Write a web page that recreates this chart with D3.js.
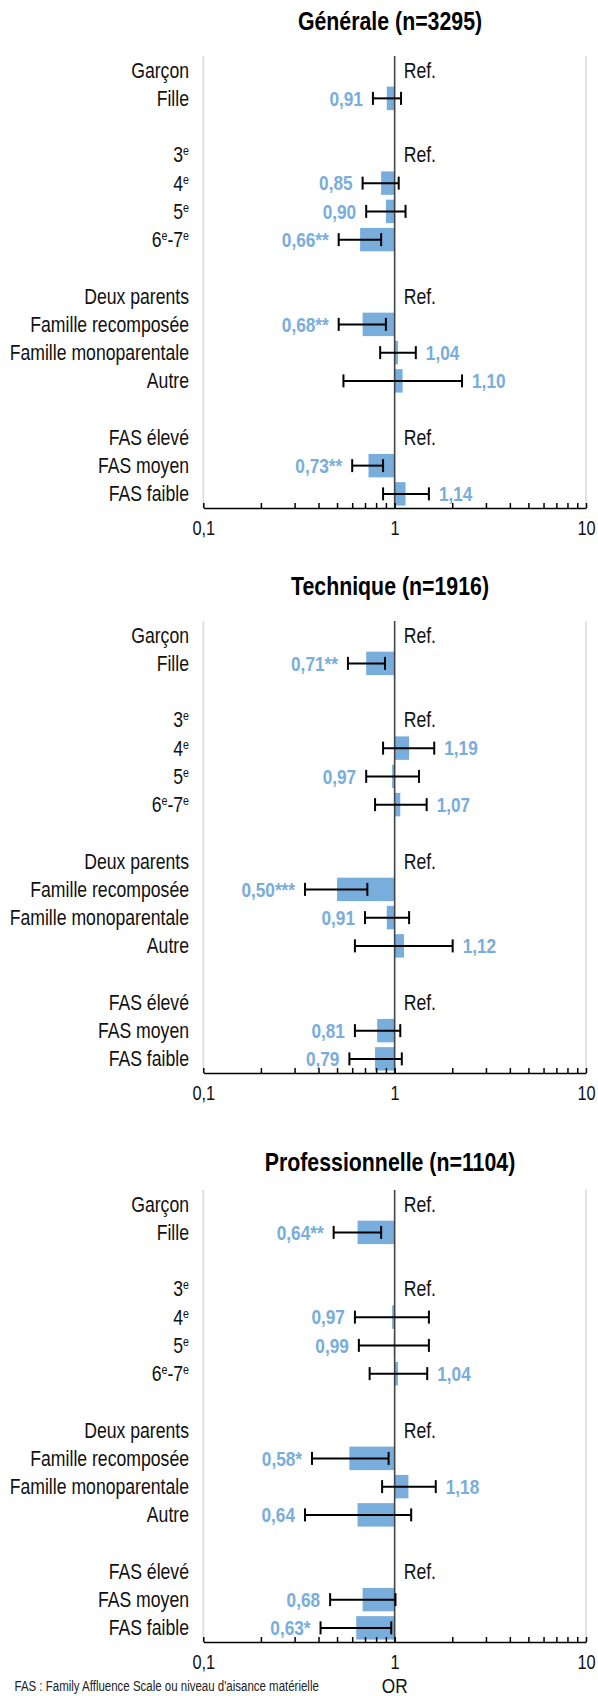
<!DOCTYPE html>
<html>
<head>
<meta charset="utf-8">
<script src="https://cdn.jsdelivr.net/npm/d3@7"></script>
<style>
  body { margin: 0; background: #fff; }
  svg text { font-family: "Liberation Sans", Arial, sans-serif; }
</style>
</head>
<body>
<script>
// rows of each panel ("" = empty spacer row)
const categories = ["Garçon", "Fille", "", "3e", "4e", "5e", "6e-7e", "",
  "Deux parents", "Famille recomposée", "Famille monoparentale", "Autre", "",
  "FAS élevé", "FAS moyen", "FAS faible"];
const refRows = ["Garçon", "3e", "Deux parents", "FAS élevé"];

const panelTitles = ["Générale (n=3295)", "Technique (n=1916)", "Professionnelle (n=1104)"];

// odds ratios, confidence bounds, significance
const orGenerale   = [null, 0.91, null, null, 0.85, 0.90, 0.66, null, null, 0.68, 1.04, 1.10, null, null, 0.73, 1.14];
const lowGenerale  = [null, 0.77, null, null, 0.68, 0.71, 0.51, null, null, 0.51, 0.84, 0.54, null, null, 0.60, 0.87];
const highGenerale = [null, 1.08, null, null, 1.05, 1.14, 0.85, null, null, 0.90, 1.29, 2.25, null, null, 0.87, 1.51];
const sigGenerale  = ["", "", "", "", "", "", "**", "", "", "**", "", "", "", "", "**", ""];

const orTechnique   = [null, 0.71, null, null, 1.19, 0.97, 1.07, null, null, 0.50, 0.91, 1.12, null, null, 0.81, 0.79];
const lowTechnique  = [null, 0.57, null, null, 0.87, 0.71, 0.79, null, null, 0.34, 0.70, 0.62, null, null, 0.62, 0.58];
const highTechnique = [null, 0.89, null, null, 1.61, 1.34, 1.47, null, null, 0.72, 1.19, 2.01, null, null, 1.07, 1.09];
const sigTechnique  = ["", "**", "", "", "", "", "", "", "", "***", "", "", "", "", "", ""];

const orPro   = [null, 0.64, null, null, 0.97, 0.99, 1.04, null, null, 0.58, 1.18, 0.64, null, null, 0.68, 0.63];
const lowPro  = [null, 0.48, null, null, 0.62, 0.65, 0.74, null, null, 0.37, 0.86, 0.34, null, null, 0.46, 0.41];
const highPro = [null, 0.85, null, null, 1.51, 1.51, 1.48, null, null, 0.93, 1.64, 1.22, null, null, 1.01, 0.96];
const sigPro  = ["", "**", "", "", "", "", "", "", "", "*", "", "", "", "", "", "*"];

const tickValues = [0.1, 0.2, 0.3, 0.4, 0.5, 0.6, 0.7, 0.8, 0.9, 1, 2, 3, 4, 5, 6, 7, 8, 9, 10];
const tickLabels = {0.1: "0,1", 1: "1", 10: "10"};

const panels = [
  {title: panelTitles[0], or: orGenerale, low: lowGenerale, high: highGenerale, sig: sigGenerale},
  {title: panelTitles[1], or: orTechnique, low: lowTechnique, high: highTechnique, sig: sigTechnique},
  {title: panelTitles[2], or: orPro, low: lowPro, high: highPro, sig: sigPro}
];

const width = 598, height = 1696;
const blue = "#78addc";
const plotTops = [56, 621, 1190];
const titleYs = [30, 595, 1171];
const plotHeight = 452;
const narrow = 0.82; // condensed look (no narrow font installed)

const svg = d3.select("body")
  .append("svg")
    .attr("width", width)
    .attr("height", height);

const x = d3.scaleLog()
    .domain([0.1, 10])
    .range([203.3, 586]);

const fmt = v => d3.format(".2f")(v).replace(".", ",");

// label with superscript "e" after digits
const addLabel = (sel, txt) => {
  const parts = txt.split(/(\d)e/);
  let shift = 0;
  parts.forEach((p, i) => {
    if (p !== "") {
      const t = sel.append("tspan").text(p);
      if (shift) { t.attr("dy", shift); shift = 0; }
    }
    if (i % 2 === 1) {
      sel.append("tspan")
          .attr("dy", -7)
          .attr("font-size", 13)
          .text("e");
      shift = 7;
    }
  });
};

panels.forEach((p, k) => {
  const top = plotTops[k];
  const rows = categories.map((c, i) => ({
    label: c, i: i, or: p.or[i], low: p.low[i], high: p.high[i], sig: p.sig[i]
  }));
  const data = rows.filter(d => d.or != null);

  const y = d3.scaleBand()
      .domain(d3.range(categories.length))
      .range([top, top + plotHeight]);
  const yc = i => y(i) + y.bandwidth() / 2;
  const barH = y.bandwidth() * 0.83;

  const g = svg.append("g");

  // title
  g.append("text")
      .attr("x", 390)
      .attr("y", titleYs[k])
      .attr("text-anchor", "middle")
      .attr("font-size", 26)
      .attr("font-weight", "bold")
      .attr("fill", "#000")
      .text(p.title);

  // light gridlines at 0,1 and 10
  g.selectAll(".grid")
    .data([0.1, 10])
    .enter()
    .append("line")
      .attr("x1", d => x(d)).attr("x2", d => x(d))
      .attr("y1", top).attr("y2", top + plotHeight)
      .attr("stroke", "#d9d9d9")
      .attr("stroke-width", 1.5);

  // row labels
  g.selectAll(".cat")
    .data(rows.filter(d => d.label !== ""))
    .enter()
    .append("text")
      .attr("x", 189)
      .attr("y", d => yc(d.i))
      .attr("dy", "0.35em")
      .attr("text-anchor", "end")
      .attr("font-size", 21.5)
      .attr("fill", "#111")
      .each(function (d) { addLabel(d3.select(this), d.label); });

  // bars
  g.selectAll(".bar")
    .data(data)
    .enter()
    .append("rect")
      .attr("x", d => Math.min(x(d.or), x(1)))
      .attr("y", d => yc(d.i) - barH / 2)
      .attr("width", d => Math.abs(x(d.or) - x(1)))
      .attr("height", barH)
      .attr("fill", blue);

  // reference line at 1
  g.append("line")
      .attr("x1", x(1)).attr("x2", x(1))
      .attr("y1", top).attr("y2", top + plotHeight)
      .attr("stroke", "#444")
      .attr("stroke-width", 1.6);

  // error bars
  const err = g.selectAll(".err")
    .data(data)
    .enter()
    .append("g")
      .attr("stroke", "#000")
      .attr("stroke-width", 2);
  err.append("line")
      .attr("x1", d => x(d.low)).attr("x2", d => x(d.high))
      .attr("y1", d => yc(d.i)).attr("y2", d => yc(d.i));
  err.append("line")
      .attr("x1", d => x(d.low)).attr("x2", d => x(d.low))
      .attr("y1", d => yc(d.i) - 6.5).attr("y2", d => yc(d.i) + 6.5);
  err.append("line")
      .attr("x1", d => x(d.high)).attr("x2", d => x(d.high))
      .attr("y1", d => yc(d.i) - 6.5).attr("y2", d => yc(d.i) + 6.5);

  // value labels
  g.selectAll(".val")
    .data(data)
    .enter()
    .append("text")
      .attr("x", d => d.or < 1 ? x(d.low) - 10 : x(d.high) + 10)
      .attr("y", d => yc(d.i))
      .attr("dy", "0.35em")
      .attr("text-anchor", d => d.or < 1 ? "end" : "start")
      .attr("font-size", 21)
      .attr("font-weight", "bold")
      .attr("fill", blue)
      .text(d => fmt(d.or) + d.sig);

  // Ref. labels
  g.selectAll(".ref")
    .data(rows.filter(d => refRows.includes(d.label)))
    .enter()
    .append("text")
      .attr("x", x(1) + 9)
      .attr("y", d => yc(d.i))
      .attr("dy", "0.35em")
      .attr("font-size", 21.5)
      .attr("fill", "#111")
      .text("Ref.");

  // log axis, ticks pointing up
  const axis = g.append("g")
      .attr("transform", "translate(0," + (top + plotHeight) + ")")
      .call(d3.axisBottom(x)
        .tickValues(tickValues)
        .tickSizeInner(-5)
        .tickSizeOuter(0)
        .tickPadding(13)
        .tickFormat(d => tickLabels[d] || ""));
  axis.select(".domain").attr("stroke", "#000").attr("stroke-width", 1.5);
  axis.selectAll(".tick line").attr("stroke", "#000").attr("stroke-width", 1.5);
  axis.selectAll(".tick text")
      .attr("font-size", 20)
      .attr("fill", "#111");
});

// axis title and footnote
svg.append("text")
    .attr("x", x(1))
    .attr("y", 1693)
    .attr("text-anchor", "middle")
    .attr("font-size", 21)
    .attr("fill", "#111")
    .text("OR");

svg.append("text")
    .attr("x", 14.5)
    .attr("y", 1691)
    .attr("font-size", 14)
    .attr("fill", "#222")
    .text("FAS : Family Affluence Scale ou niveau d'aisance matérielle");

// squeeze every text horizontally around its anchor
svg.selectAll("text").each(function () {
  const t = d3.select(this);
  const tx = +t.attr("x") || 0, ty = +t.attr("y") || 0;
  t.attr("x", null).attr("y", null)
   .attr("transform", "translate(" + tx + "," + ty + ") scale(" + narrow + ",1)");
});
</script>
</body>
</html>
